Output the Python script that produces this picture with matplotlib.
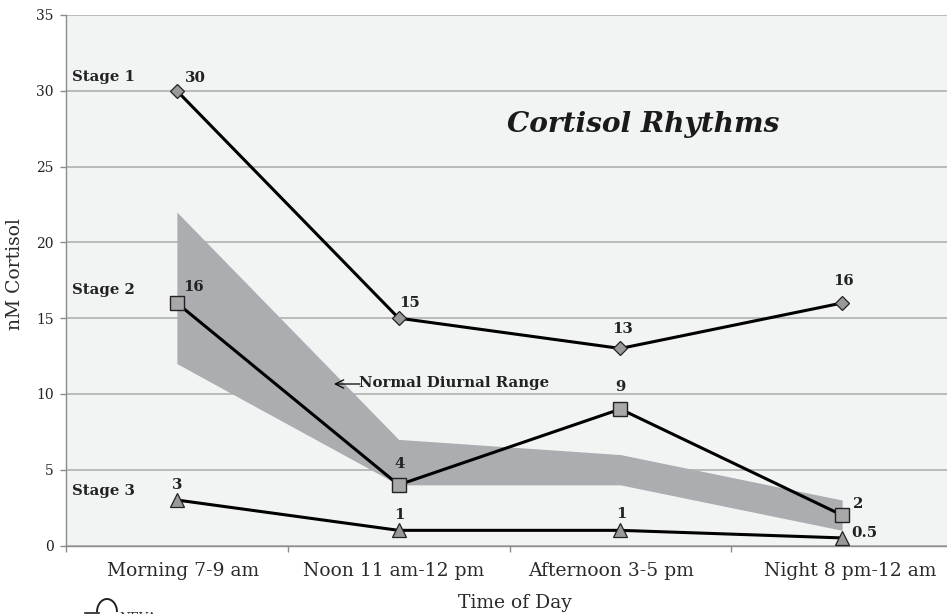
import matplotlib
matplotlib.use("Agg")
import matplotlib.pyplot as plt
from matplotlib.patches import Arc
import numpy as np

# data
categories = ["Morning 7-9 am", "Noon 11 am-12 pm", "Afternoon 3-5 pm", "Night 8 pm-12 am"]
stage1 = [30, 15, 13, 16]
stage2 = [16, 4, 9, 2]
stage3 = [3, 1, 1, 0.5]
range_low = [12, 4, 4, 1]
range_high = [22, 7, 6, 3]
y_ticks = [0, 5, 10, 15, 20, 25, 30, 35]

W, H = 947, 614
wide = ["DejaVu Serif"]

fig = plt.figure(figsize=(W / 100, H / 100), dpi=100)
ax = fig.add_axes([66 / W, 1 - 545.5 / H, (953 - 66) / W, (545.5 - 15) / H])
ax.set_facecolor("#f2f4f4")

x = np.arange(len(categories))
ax.set_xlim(-0.5, 3.5)
ax.set_ylim(0, 35)

ax.fill_between(x, range_low, range_high, color="#abadb1", lw=0, zorder=2)

ax.plot(x, stage1, color="black", lw=2.2, marker="D", ms=7, mfc="#999999", mec="#222222", mew=0.9, zorder=4)
ax.plot(x, stage2, color="black", lw=2.2, marker="s", ms=10, mfc="#a8a8a8", mec="#222222", mew=1.0, zorder=4)
ax.plot(x, stage3, color="black", lw=2.2, marker="^", ms=10.5, mfc="#999999", mec="#222222", mew=0.9, zorder=4, clip_on=False)

ax.set_yticks(y_ticks)
ax.set_xticks(np.arange(-0.5, 4, 1))
ax.set_xticklabels([])
ax.grid(axis="y", color="#aaaaaa", lw=1.1, zorder=1)
ax.set_axisbelow(True)
for s in ["top", "right"]:
    ax.spines[s].set_visible(False)
for s in ["left", "bottom"]:
    ax.spines[s].set_color("#8c8c8c")
    ax.spines[s].set_linewidth(1.0)
ax.tick_params(axis="both", color="#8c8c8c", length=4, width=1)
ax.tick_params(axis="y", labelsize=10, pad=5, labelcolor="#222222")
for t in ax.get_yticklabels():
    t.set_family(wide)

# category labels sit a little off the group centres in the original
label_centres = [183, 394, 611, 850]
for c, cx in zip(categories, label_centres):
    fig.text(cx / W, 1 - 571 / H, c, family=wide, fontsize=13.5, color="#2a2a2a", ha="center", va="center")

fig.text(15 / W, 1 - 274 / H, "nM Cortisol", family=wide, fontsize=13.5, color="#2a2a2a",
         rotation=90, ha="center", va="center")
fig.text(515 / W, 1 - 603 / H, "Time of Day", family=wide, fontsize=13.5, color="#2a2a2a", ha="center", va="center")


def lab(xp, yp, s, size=10.7):
    fig.text(xp / W, 1 - yp / H, s, family=wide, fontsize=size, fontweight="bold", color="#222222",
             ha="left", va="center")


lab(72, 77, "Stage 1")
lab(72, 290, "Stage 2")
lab(72, 491, "Stage 3")
lab(185, 78, "30")
lab(183, 287, "16")
lab(172, 485, "3")
lab(399, 303, "15")
lab(394, 464, "4")
lab(394, 515, "1")
lab(612, 329, "13")
lab(615, 387, "9")
lab(616, 514, "1")
lab(833, 281, "16")
lab(853, 504, "2")
lab(851, 533, "0.5")

# label for the shaded band
ax.annotate("", xy=(334 / W, 1 - 384 / H), xycoords="figure fraction",
            xytext=(360 / W, 1 - 384 / H), textcoords="figure fraction",
            arrowprops=dict(arrowstyle="->", color="black", lw=0.9, shrinkA=0, shrinkB=0, mutation_scale=15), zorder=5)
lab(359, 383, "Normal Diurnal Range", 10.7)

fig.text(507 / W, 1 - 124 / H, "Cortisol Rhythms", family=wide, fontsize=20.2, fontweight="bold",
         fontstyle="italic", color="#1a1a1a", ha="left", va="center")

# logo cut off by the bottom edge, same as the original
logo = fig.add_axes([0, 0, 1, 1], facecolor="none")
logo.set_xlim(0, W)
logo.set_ylim(H, 0)
logo.axis("off")
logo.add_patch(Arc((107, 612), 20, 26, theta1=180, theta2=360, color="#222222", lw=1.4))
logo.plot([85, 99], [613, 613], color="#222222", lw=1.2)
logo.text(119, 612, "NEVA", family=wide, fontsize=9, color="#333333", ha="left", va="top", clip_on=True)

fig.savefig("out.png", dpi=100, facecolor="white")
